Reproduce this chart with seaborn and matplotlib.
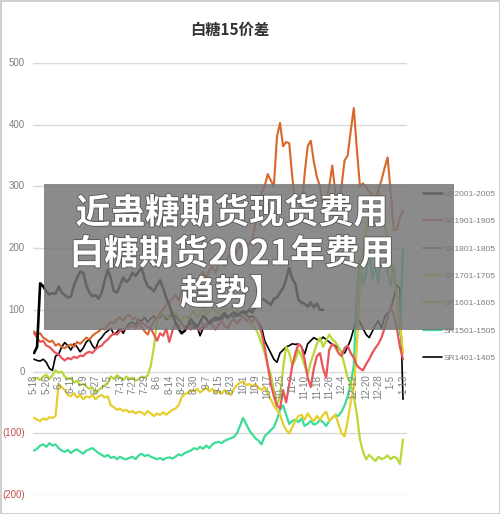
import numpy as np
import pandas as pd
import matplotlib
matplotlib.use("Agg")
import matplotlib.pyplot as plt
import matplotlib.patheffects as pe
import seaborn as sns
from matplotlib.patches import Rectangle

sns.set_theme(style="white")
plt.rcParams['font.family'] = ['Noto Sans CJK SC', 'DejaVu Sans']

# ---------------- data ----------------
date_labels = ["5-18", "5-26", "6-3", "6-11", "6-19", "6-27", "7-5", "7-13", "7-21", "7-29",
               "8-6", "8-14", "8-22", "8-30", "9-7", "9-15", "9-23", "10-1", "10-9", "10-17",
               "10-25", "11-2", "11-10", "11-18", "11-26", "12-4", "12-12", "12-20", "12-28",
               "1-5", "1-13"]

sr2001 = [30, 40, 143, 138, 130, 125, 127, 126, 138, 128,
          124, 120, 121, 140, 152, 162, 160, 140, 128, 122,
          124, 118, 128, 148, 165, 150, 130, 128, 140, 152,
          145, 150, 160, 155, 162, 168, 150, 138, 135, 130,
          140, 148, 135, 120, 108, 92, 80, 70, 62, 66,
          75, 85, 78, 72, 80, 90, 86, 78, 82, 88,
          84, 90, 95, 88, 92, 96, 90, 94, 98, 95,
          100, 96, 105, 110, 118, 116, 112, 108, 118, 120,
          128, 135, 150, 168, 150, 142, 116, 112, 110, 105,
          112, 104, 110, 100, 100]

sr1901 = [62, 55, 48, 50, 42, 40, 35, 30, 28, 22,
          18, 22, 20, 24, 22, 26, 25, 30, 32, 30,
          36, 40, 42, 48, 52, 58, 62, 60, 66, 68,
          70, 72, 75, 70, 78, 80, 76, 72, 70, 60,
          50, 62, 58, 70, 48, 66, 78, 72, 80, 70,
          75, 68, 80, 72, 66, 78, 72, 82, 75, 68,
          76, 82, 74, 70, 80, 86, 78, 84, 90, 82,
          86, 80, 88, 78, 62, 40, 10, -20, -40, -55,
          -60, -30, -50, -20, 10, 30, 45, 40, 20, -10,
          -25, 5, 25, 30, 5, -10, 35, 45, 40, 30,
          25, 38, 42, 30, 22, 10, 5, 2, 12, 20,
          30, 38, 45, 55, 70, 88, 105, 92, 70, 40, 20]

sr1801 = [65, 60, 62, 55, 52, 48, 50, 42, 45, 40,
          38, 42, 44, 40, 48, 45, 50, 55, 52, 58,
          62, 65, 70, 68, 75, 80, 78, 85, 88, 82,
          90, 92, 85, 88, 80, 72, 65, 60, 72, 82,
          88, 95, 100, 108, 112, 118, 125, 115, 130, 138,
          132, 145, 150, 142, 155, 162, 150, 165, 170, 160,
          175, 180, 170, 185, 192, 180, 195, 205, 198, 210,
          205, 215, 240, 270, 290, 300, 320, 310, 300, 380,
          403, 365, 372, 370, 315, 270, 285, 250, 320, 365,
          374, 340, 315, 300, 266, 280, 300, 334, 290, 268,
          300, 342, 350, 390, 427, 360, 300, 305, 298, 292,
          285, 280, 295, 310, 330, 347, 290, 229, 230, 250, 261]

sr1701 = [-75, -78, -80, -76, -78, -74, -75, -72, -20, -25,
          -30, -38, -40, -35, -42, -38, -45, -40, -42, -38,
          -45, -40, -38, -42, -40, -55, -58, -62, -60, -64,
          -62, -66, -64, -68, -65, -66, -70, -64, -68, -72,
          -68, -70, -66, -70, -66, -62, -60, -55, -42, -36,
          -35, -30, -32, -28, -34, -30, -26, -32, -28, -34,
          -32, -36, -30, -34, -38, -28, -22, -18, -16, -22,
          -20, -24, -20, -26, -30, -25, -35, -45, -55, -62,
          -70, -85, -95, -100, -90, -80, -72, -70, -78, -68,
          -75, -80, -72, -78, -70, -65, -80, -75, -70, -85,
          -100, -105, -80, -50, -25, 40, 150, 200, 230, 260,
          290, 280, 295, 270, 240, 210, 180, 150, 120, 80, 30]

sr1601 = [-12, -10, -14, -8, -5, -12, -6, 2, -2, 0,
          -8, -12, -10, -18, -15, -22, -20, -24, -28, -26,
          -35, -30, -26, -22, -18, -8, -12, -6, -10, -14,
          -8, -12, -10, -15, -12, -8, -10, -6, 10, 40,
          80, 95, 88, 92, 85, 90, 96, 88, 82, 90,
          86, 92, 98, 88, 94, 100, 92, 96, 104, 98,
          94, 100, 106, 98, 102, 108, 100, 96, 90, 84,
          80, 74, 70, 60, 45, 30, 10, -5, -30, -55,
          -40, 5, 40, 30, 10, 20, 35, 25, 10, -5,
          15, 30, 45, 55, 40, 50, 60, 52, 48, 40,
          30, 10, -10, -20, -40, -70, -110, -130, -142, -135,
          -140, -145, -138, -142, -140, -136, -142, -138, -140, -150, -110]

sr1501 = [-128, -125, -120, -118, -122, -116, -120, -118, -124, -128,
          -130, -127, -132, -128, -126, -130, -133, -128, -126, -124,
          -128, -132, -135, -138, -135, -140, -138, -142, -138, -141,
          -142, -140, -138, -142, -136, -133, -137, -135, -138, -140,
          -142, -140, -143, -140, -139, -141, -138, -134, -136, -132,
          -130, -128, -124, -126, -122, -125, -120, -124, -118, -115,
          -114, -116, -112, -110, -108, -106, -100, -88, -75, -85,
          -95, -102, -108, -112, -118, -105, -100, -95, -90, -78,
          -62, -55, -70, -85, -80, -78, -82, -76, -88, -85,
          -80, -86, -84, -78, -82, -88, -80, -75, -70, -72,
          -65, -55, -40, -20, 10, 130, 180, 140, 160, 200,
          150, 170, 145, 210, 190, 160, 140, 170, 120, 60, 200]

sr1401 = [20, 18, 17, 20, 15, 5, 2, 25, 28, 40,
          47, 42, 35, 45, 40, 32, 38, 48, 52, 42,
          36, 50, 55, 62, 66, 70, 60, 64, 70, 62,
          72, 78, 80, 76, 84, 82, 88, 80, 86, 90,
          84, 88, 92, 84, 88, 96, 90, 84, 80, 72,
          72, 78, 70, 74, 58, 70, 76, 80, 86, 82,
          88, 84, 90, 86, 92, 88, 95, 90, 96, 92,
          88, 90, 85, 80, 72, 50, 40, 30, 20, 15,
          30, 35, 40, 42, 45, 44, 45, 40, 28, 45,
          50, 55, 52, 50, 56, 52, 48, 44, 42, 38,
          32, 30, 40, 52, 70, 88, 80, 70, 60, 55,
          65, 75, 82, 70, 88, 95, 100, 120, 140, 135, -45]

series_names = ["SR2001-2005", "SR1901-1905", "SR1801-1805", "SR1701-1705",
                "SR1601-1605", "SR1501-1505", "SR1401-1405"]
series_values = [sr2001, sr1901, sr1801, sr1701, sr1601, sr1501, sr1401]
series_colors = ["#000000", "#e8555a", "#d8672a", "#e6cf2c", "#b6d936", "#3ddc97", "#000000"]
series_widths = [1.9, 1.6, 1.5, 1.6, 1.6, 1.6, 1.2]

y_ticks = [500, 400, 300, 200, 100, 0, -100, -200]
y_tick_labels = ["500", "400", "300", "200", "100", "0", "(100)", "(200)"]

frames = []
for name, vals in zip(series_names, series_values):
    frames.append(pd.DataFrame({"idx": np.arange(len(vals)), "value": vals, "series": name}))
df = pd.concat(frames, ignore_index=True)

# ---------------- figure ----------------
W, H = 500, 514
fig = plt.figure(figsize=(W / 100, H / 100), dpi=100)
fig.patch.set_facecolor("white")
fig.patch.set_edgecolor("#d0d0d0")
fig.patch.set_linewidth(2)

NARROW = ["Liberation Sans", "DejaVu Sans"]

x0, x1 = 33, 407
y_top, y_bot = 63, 495
ax = fig.add_axes([x0 / W, 1 - y_bot / H, (x1 - x0) / W, (y_bot - y_top) / H])
ax.set_facecolor("none")

draw_order = [6, 5, 4, 3, 2, 1, 0]
line_objs = {}
for i in draw_order:
    sub = df[df["series"] == series_names[i]]
    sns.lineplot(data=sub, x="idx", y="value", color=series_colors[i],
                 linewidth=series_widths[i], ax=ax, estimator=None, sort=False)
    line_objs[i] = ax.get_lines()[-1]

ax.set_ylim(-200, 500)
n = len(sr1501)
ax.set_xlim(-0.33, (n - 1) + 1.3)
ax.set_yticks(y_ticks)
ax.set_yticklabels([])
ax.tick_params(axis="both", length=0)
ax.set_xticks([])
ax.set_xlabel("")
ax.set_ylabel("")
for s in ax.spines.values():
    s.set_visible(False)
ax.yaxis.grid(True, color="#d9d9d9", linewidth=1.0)
ax.set_axisbelow(True)

# y tick labels
for v, lab in zip(y_ticks, y_tick_labels):
    col = "#c0504d" if v < 0 else "#7f7f7f"
    ax.text(-0.022, v, lab, transform=ax.get_yaxis_transform(), ha="right", va="center",
            fontsize=7, color=col, family=NARROW)

# x category labels (every 4th point)
for j, lab in enumerate(date_labels):
    ax.text(j * 4, -5, lab, rotation=90, ha="center", va="top", fontsize=7,
            color="#7f7f7f", family=NARROW)

# title
fig.text(230 / W, 1 - 30 / H, "白糖15价差", ha="center", va="center", fontsize=11,
         color="#333333", fontweight="bold")

# legend
leg_handles = [line_objs[i] for i in range(7)]
leg = ax.legend(leg_handles, series_names, loc="upper left",
                bbox_to_anchor=(417 / W, 1 - 184 / H), bbox_transform=fig.transFigure,
                frameon=False, prop={"family": NARROW, "size": 6},
                labelspacing=2.35, handlelength=2.3, handletextpad=0.25, borderpad=0.2)
for t in leg.get_texts():
    t.set_color("#7f7f7f")

# overlay banner
fig.patches.append(Rectangle((44 / W, 1 - 330 / H), (454 - 44) / W, (330 - 184) / H,
                             transform=fig.transFigure, facecolor="#777777", alpha=0.85,
                             edgecolor="none", zorder=5))
banner = ["近蛊糖期货现货费用", "白糖期货2021年费用", "趋势】"]
for yy, txt in zip([213, 254, 294], banner):
    fig.text(232 / W, 1 - yy / H, txt, ha="center", va="center", fontsize=25,
             color="white", fontweight="heavy", zorder=6,
             path_effects=[pe.withStroke(linewidth=1.2, foreground="#555555")])

fig.savefig("out.png", dpi=100, facecolor=fig.get_facecolor(), edgecolor=fig.get_edgecolor())
